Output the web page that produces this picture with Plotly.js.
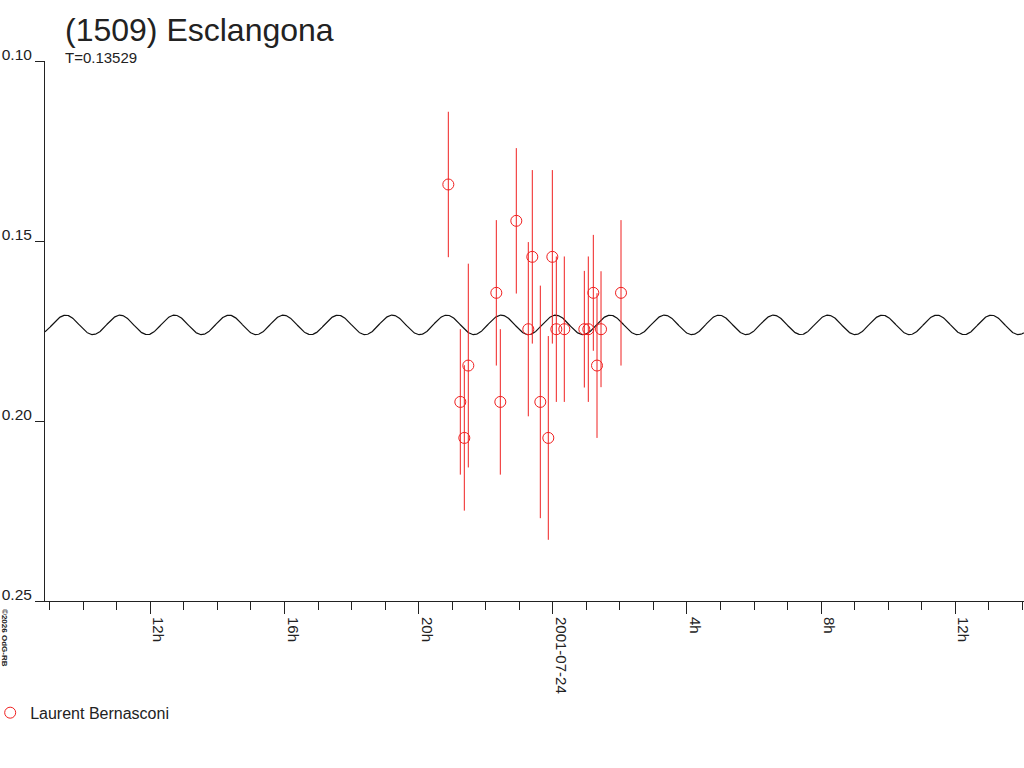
<!DOCTYPE html>
<html>
<head>
<meta charset="utf-8">
<script src="https://cdn.plot.ly/plotly-3.0.1.min.js"></script>
<style>html,body{margin:0;padding:0;background:#fff;}#chart{width:1024px;height:768px;}</style>
</head>
<body>
<div id="chart"></div>
<script>
// Observation times (UT)
var obsTimes = [
  '2001-07-23 20:53:06','2001-07-23 21:14:34','2001-07-23 21:21:43','2001-07-23 21:28:52',
  '2001-07-23 22:18:58','2001-07-23 22:26:07','2001-07-23 22:54:43','2001-07-23 23:16:12',
  '2001-07-23 23:23:20','2001-07-23 23:37:41','2001-07-23 23:51:58','2001-07-23 23:59:10',
  '2001-07-24 00:06:18','2001-07-24 00:20:35','2001-07-24 00:56:24','2001-07-24 01:03:32',
  '2001-07-24 01:12:29','2001-07-24 01:19:05','2001-07-24 01:26:17','2001-07-24 02:02:02'
];
// Relative magnitude values
var obsMags = [
  0.1343, 0.1947, 0.2047, 0.1846,
  0.1644, 0.1947, 0.1444, 0.1745,
  0.1544, 0.1947, 0.2047, 0.1544,
  0.1745, 0.1745, 0.1745, 0.1745,
  0.1644, 0.1846, 0.1745, 0.1644
];
// Error bars (half-length)
var obsErrs = [
  0.0202, 0.0202, 0.0202, 0.0283,
  0.0202, 0.0202, 0.0202, 0.0242,
  0.0241, 0.0323, 0.0283, 0.0241,
  0.0202, 0.0202, 0.0162, 0.0202,
  0.0161, 0.0201, 0.0161, 0.0202
];
var observer = 'Laurent Bernasconi';

// Light-curve model parameters
var periodDays = 0.13529;
var modelMean = 0.1733;
var modelAmp = 0.0027;
var modelEpoch = '2001-07-24 00:05:13'; // time of a brightness maximum
var modelStart = '2001-07-23 08:51:36';
var modelEnd = '2001-07-24 14:02:56';

// Axis ticks
var xTickVals = ['2001-07-23 12:00','2001-07-23 16:00','2001-07-23 20:00','2001-07-24 00:00','2001-07-24 04:00','2001-07-24 08:00','2001-07-24 12:00'];
var xTickText = ['12h','16h','20h','2001-07-24','4h','8h','12h'];
var yTickVals = [0.10, 0.15, 0.20, 0.25];
var yTickText = ['0.10','0.15','0.20','0.25'];

function toMs(s){ return new Date(s.replace(' ','T') + 'Z').getTime(); }
function fmt(ms){ return new Date(ms).toISOString().replace('T',' ').replace('Z',''); }

// Model curve (double-peaked lightcurve of period periodDays)
var mx = [], my = [];
var t0 = toMs(modelStart), t1 = toMs(modelEnd), te = toMs(modelEpoch);
var pMs = periodDays * 86400000;
for (var t = t0; t <= t1; t += 60000) {
  mx.push(fmt(t));
  my.push(modelMean - modelAmp * Math.cos(4 * Math.PI * (t - te) / pMs));
}

var red = 'rgb(240,32,32)';
var font = 'Liberation Sans, Arial, sans-serif';

var traces = [
  {
    x: mx, y: my, type: 'scatter', mode: 'lines',
    line: {color: '#111', width: 1.2},
    showlegend: false, hoverinfo: 'skip'
  },
  {
    x: obsTimes, y: obsMags, type: 'scatter', mode: 'markers',
    name: observer,
    marker: {symbol: 'circle-open', size: 11, color: red, line: {width: 1, color: red}},
    error_y: {type: 'data', array: obsErrs, symmetric: true, visible: true, color: red, thickness: 1, width: 0}
  }
];

var layout = {
  width: 1024, height: 768,
  margin: {l: 45, r: 0, t: 61, b: 167, pad: 0, autoexpand: false},
  paper_bgcolor: '#fff', plot_bgcolor: '#fff',
  font: {family: font, color: '#222', size: 15},
  title: {
    text: '(1509) Esclangona',
    font: {family: font, size: 32, color: '#222'},
    xref: 'container', yref: 'container',
    x: 65/1024, xanchor: 'left',
    y: 1 - 30/768, yanchor: 'middle'
  },
  showlegend: true,
  legend: {
    x: -0.056, xanchor: 'left', y: -0.207, yanchor: 'middle',
    font: {family: font, size: 16, color: '#222'},
    bgcolor: 'rgba(0,0,0,0)', borderwidth: 0
  },
  xaxis: {
    type: 'date',
    range: [modelStart, modelEnd],
    showgrid: false, zeroline: false,
    showline: true, linecolor: '#222', linewidth: 1,
    ticks: 'outside', ticklen: 12, tickcolor: '#222', tickwidth: 1,
    tickmode: 'array', tickvals: xTickVals, ticktext: xTickText,
    tickangle: 90, ticklabelshift: 8,
    tickfont: {family: font, size: 15, color: '#222'},
    minor: {ticks: 'outside', ticklen: 8, tickcolor: '#222', tickwidth: 1, dtick: 3600000, tick0: '2001-07-23 00:00', showgrid: false}
  },
  yaxis: {
    range: [0.25, 0.10],
    showgrid: false, zeroline: false,
    showline: true, linecolor: '#222', linewidth: 1,
    ticks: 'outside', ticklen: 9, tickcolor: '#222', tickwidth: 1,
    tickmode: 'array', tickvals: yTickVals, ticktext: yTickText,
    ticklabelshift: 6, ticklabelstandoff: 0,
    tickfont: {family: font, size: 15.5, color: '#222'}
  },
  annotations: [
    {
      text: 'T=0.13529', xref: 'paper', yref: 'paper',
      x: 18/979, xanchor: 'left', y: 1 + 4/540, yanchor: 'middle',
      showarrow: false, font: {family: font, size: 15, color: '#222'}
    },
    {
      text: '©2026 OdG-RB', xref: 'paper', yref: 'paper',
      x: -40/979, xanchor: 'center', y: -37/540, yanchor: 'middle',
      textangle: 90, showarrow: false,
      font: {family: font, size: 8, color: '#222', weight: 'bold'}
    }
  ]
};

Plotly.newPlot('chart', traces, layout, {displayModeBar: false, staticPlot: true});
</script>
</body>
</html>
